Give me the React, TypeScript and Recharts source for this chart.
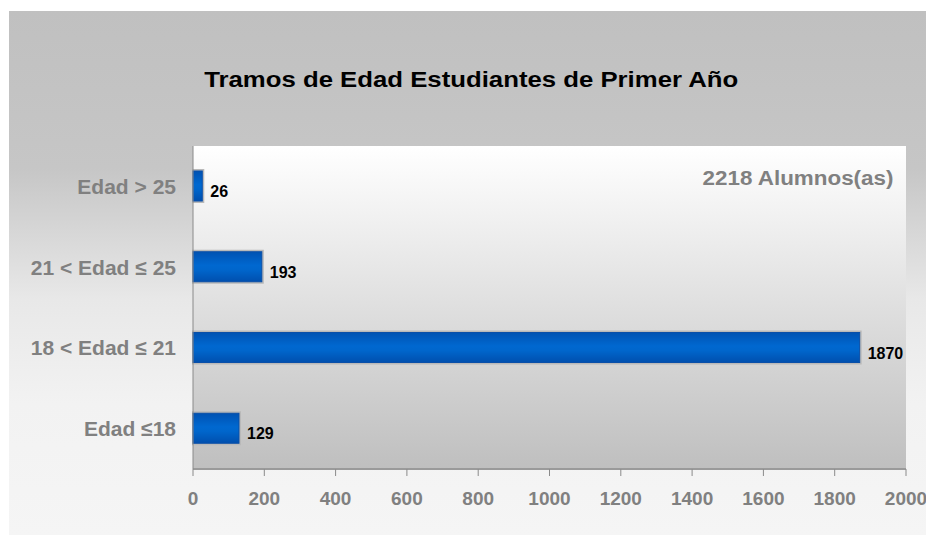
import React from 'react'
import { BarChart, Bar, XAxis, YAxis, CartesianGrid, LabelList } from 'recharts'

const categories = ['Edad > 25', '21 < Edad ≤ 25', '18 < Edad ≤ 21', 'Edad ≤18']
const students = [26, 193, 1870, 129]
const xTicks = [0, 200, 400, 600, 800, 1000, 1200, 1400, 1600, 1800, 2000]
const totalLabel = '2218 Alumnos(as)'
const title = 'Tramos de Edad Estudiantes de Primer Año'

const data = categories.map((name, i) => ({ name, value: students[i] }))

const font = 'Arial, "Liberation Sans", Helvetica, sans-serif'

function BarShape(props: any) {
  const { x, y, width, height } = props
  if (width <= 0) return null
  return (
    <g>
      <rect x={x - 1} y={y - 2} width={width + 3} height={height + 4} fill="#b9b9b9" />
      <rect x={x} y={y} width={width} height={height} fill="url(#barFill)" stroke="#0a4fa8" strokeWidth={1} />
    </g>
  )
}

function ValueLabel(props: any) {
  const { x, y, width, height, value } = props
  return (
    <text
      x={x + width + 8}
      y={y + height / 2 + 11}
      fill="#000"
      fontFamily={font}
      fontWeight="bold"
      fontSize={16}
    >
      {value}
    </text>
  )
}

export default function App() {
  return (
    <div style={{ position: 'fixed', left: 0, top: 0, width: 926, height: 535, background: '#fff', overflow: 'hidden' }}>
      <div
        style={{
          position: 'absolute',
          left: 9,
          top: 11,
          width: 917,
          height: 524,
          background: 'linear-gradient(to bottom, #c0c0c0 0%, #c6c6c6 30%, #e8e8e8 55%, #f2f2f2 75%, #f5f5f5 100%)'
        }}
      />
      <div
        style={{
          position: 'absolute',
          left: 9,
          width: 917,
          top: 67,
          textAlign: 'center',
          fontFamily: font,
          fontWeight: 'bold',
          fontSize: 22,
          color: '#000'
        }}
      >
        <span style={{ display: 'inline-block', transform: 'scaleX(1.17)', marginLeft: 8 }}>{title}</span>
      </div>
      <div style={{ position: 'absolute', left: 0, top: 0 }}>
        <BarChart
          width={926}
          height={535}
          data={data}
          layout="vertical"
          margin={{ top: 146, right: 20, bottom: 0, left: 8 }}
          barSize={30}
        >
          <defs>
            <linearGradient id="plotBg" x1="0" y1="0" x2="0" y2="1">
              <stop offset="0%" stopColor="#ffffff" />
              <stop offset="100%" stopColor="#bfbfbf" />
            </linearGradient>
            <linearGradient id="barFill" x1="0" y1="0" x2="0" y2="1">
              <stop offset="0%" stopColor="#0052b2" />
              <stop offset="45%" stopColor="#0068d0" />
              <stop offset="60%" stopColor="#0066cc" />
              <stop offset="100%" stopColor="#004fae" />
            </linearGradient>
          </defs>
          <CartesianGrid horizontal={false} vertical={false} fill="url(#plotBg)" />
          <XAxis
            type="number"
            domain={[0, 2000]}
            ticks={xTicks}
            interval={0}
            height={66}
            axisLine={{ stroke: '#9a9a9a', strokeWidth: 2 }}
            tickLine={{ stroke: '#8a8a8a' }}
            tickSize={7}
            tickMargin={16}
            tick={{ fill: '#808080', fontFamily: font, fontWeight: 'bold', fontSize: 19 }}
          />
          <YAxis
            type="category"
            dataKey="name"
            width={185}
            axisLine={{ stroke: '#8a8a8a' }}
            tickLine={false}
            tickSize={0}
            tickMargin={17}
            tick={{ fill: '#808080', fontFamily: font, fontWeight: 'bold', fontSize: 21 }}
          />
          <Bar dataKey="value" shape={<BarShape />} isAnimationActive={false}>
            <LabelList dataKey="value" content={<ValueLabel />} />
          </Bar>
        </BarChart>
      </div>
      <div
        style={{
          position: 'absolute',
          right: 33,
          top: 167,
          fontFamily: font,
          fontWeight: 'bold',
          fontSize: 20,
          color: '#808080',
          transform: 'scaleX(1.12)',
          transformOrigin: 'right center'
        }}
      >
        {totalLabel}
      </div>
    </div>
  )
}
